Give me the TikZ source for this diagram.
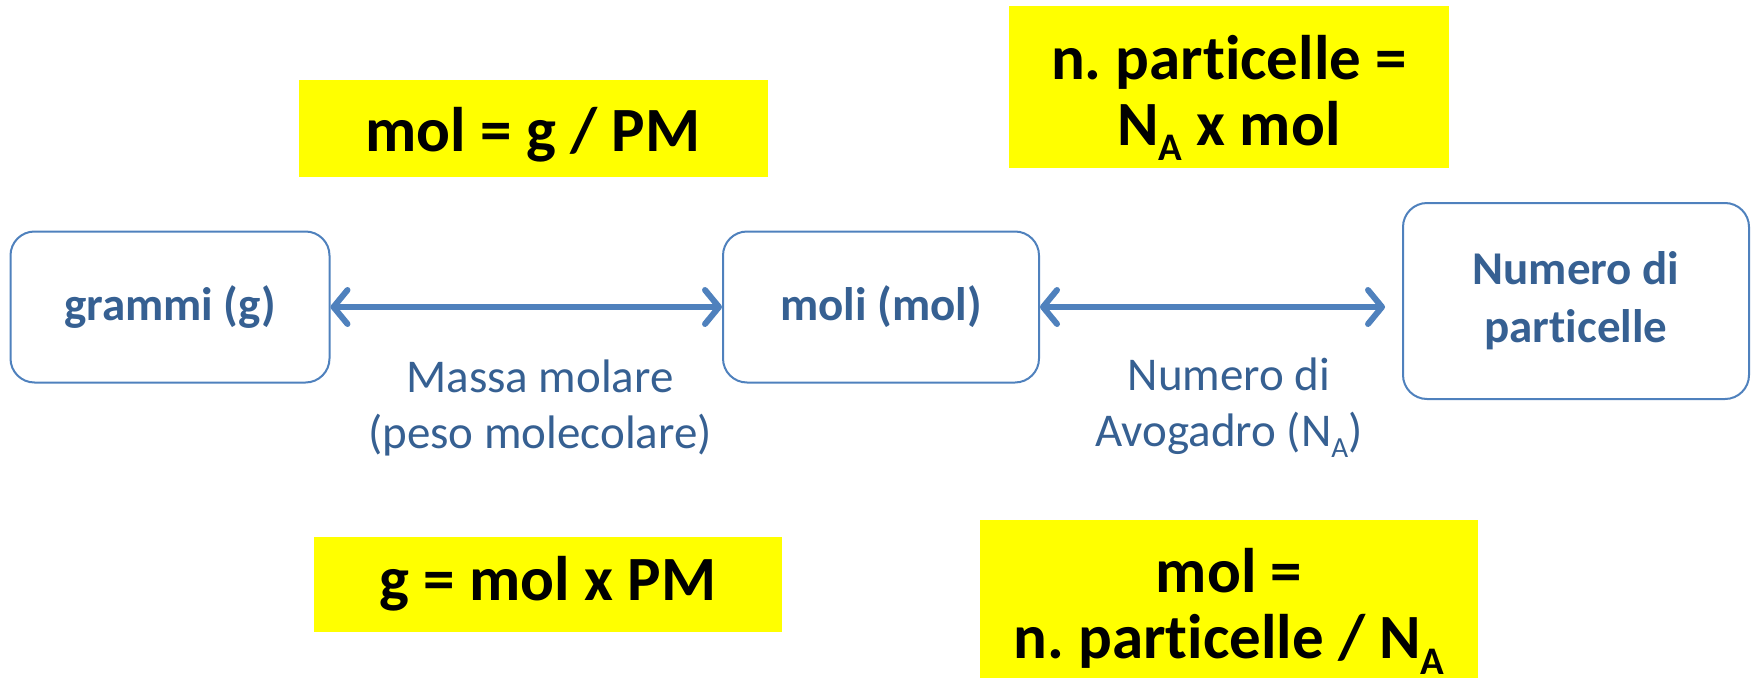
\documentclass[tikz,border=0pt]{standalone}
\usepackage{fontspec}
\usepackage{graphicx}
\setmainfont{Carlito}[Ligatures=NoCommon]
\frenchspacing
\usetikzlibrary{arrows.meta, positioning}
\definecolor{cblue}{HTML}{4F81BD}
\definecolor{ctext}{HTML}{366092}
\definecolor{cyel}{HTML}{FFFF00}
\newcommand{\topstrut}[1]{\vrule height #1 depth 0pt width 0pt}
\newcommand{\lowidx}[1]{\raisebox{-0.24em}{\scalebox{0.62}{#1}}}

\begin{document}
\begin{tikzpicture}[
  x=1pt, y=-1pt,
  >={Straight Barb[length=14pt, width=34pt, round]},
  box/.style={draw=cblue, line width=2pt, rounded corners=24pt, align=center,
              text=ctext, font=\fontsize{47}{58}\selectfont\bfseries},
  formula/.style={fill=cyel, align=center, font=\fontsize{63}{66}\selectfont\bfseries},
  note/.style={align=center, text=ctext, font=\fontsize{47}{56}\selectfont},
  arr/.style={<->, draw=cblue, line width=6pt},
  ]
\clip (0,0) rectangle (1752,677);
\useasboundingbox (0,0) rectangle (1752,677);

% units
\node[box, minimum width=319pt, minimum height=151pt] (gram) at (170,307) {grammi (g)};
\node[box, minimum width=316pt, minimum height=151pt] (moli) at (881,307) {moli (mol)};
\node[box, minimum width=346pt, minimum height=196pt] (part) at (1576,301) {Numero di\\particelle};

% formulas
\node[formula, minimum width=469pt, minimum height=97pt] (fmol) at (533,128) {\topstrut{58pt}mol = g / PM};
\node[formula, minimum width=440pt, minimum height=161pt] (fpart) at (1229,87) {\topstrut{66pt}n. particelle =\\N\lowidx{A} x mol};
\node[formula, minimum width=468pt, minimum height=95pt] (fg) at (548,584) {g = mol x PM};
\node[formula, minimum width=498pt, minimum height=172pt] (fnum) at (1229,606) {\topstrut{55pt}mol =\\n. particelle / N\lowidx{A}};

\draw[arr] (gram.east) -- (moli.west);
\draw[arr, shorten >=17pt] (moli.east) -- (moli.east -| part.west);

\node[note] (massa) at (540,408) {Massa molare\\(peso molecolare)};
\node[note] (avog) at (1229,408) {Numero di\\Avogadro (N\lowidx{A})};
\end{tikzpicture}
\end{document}
